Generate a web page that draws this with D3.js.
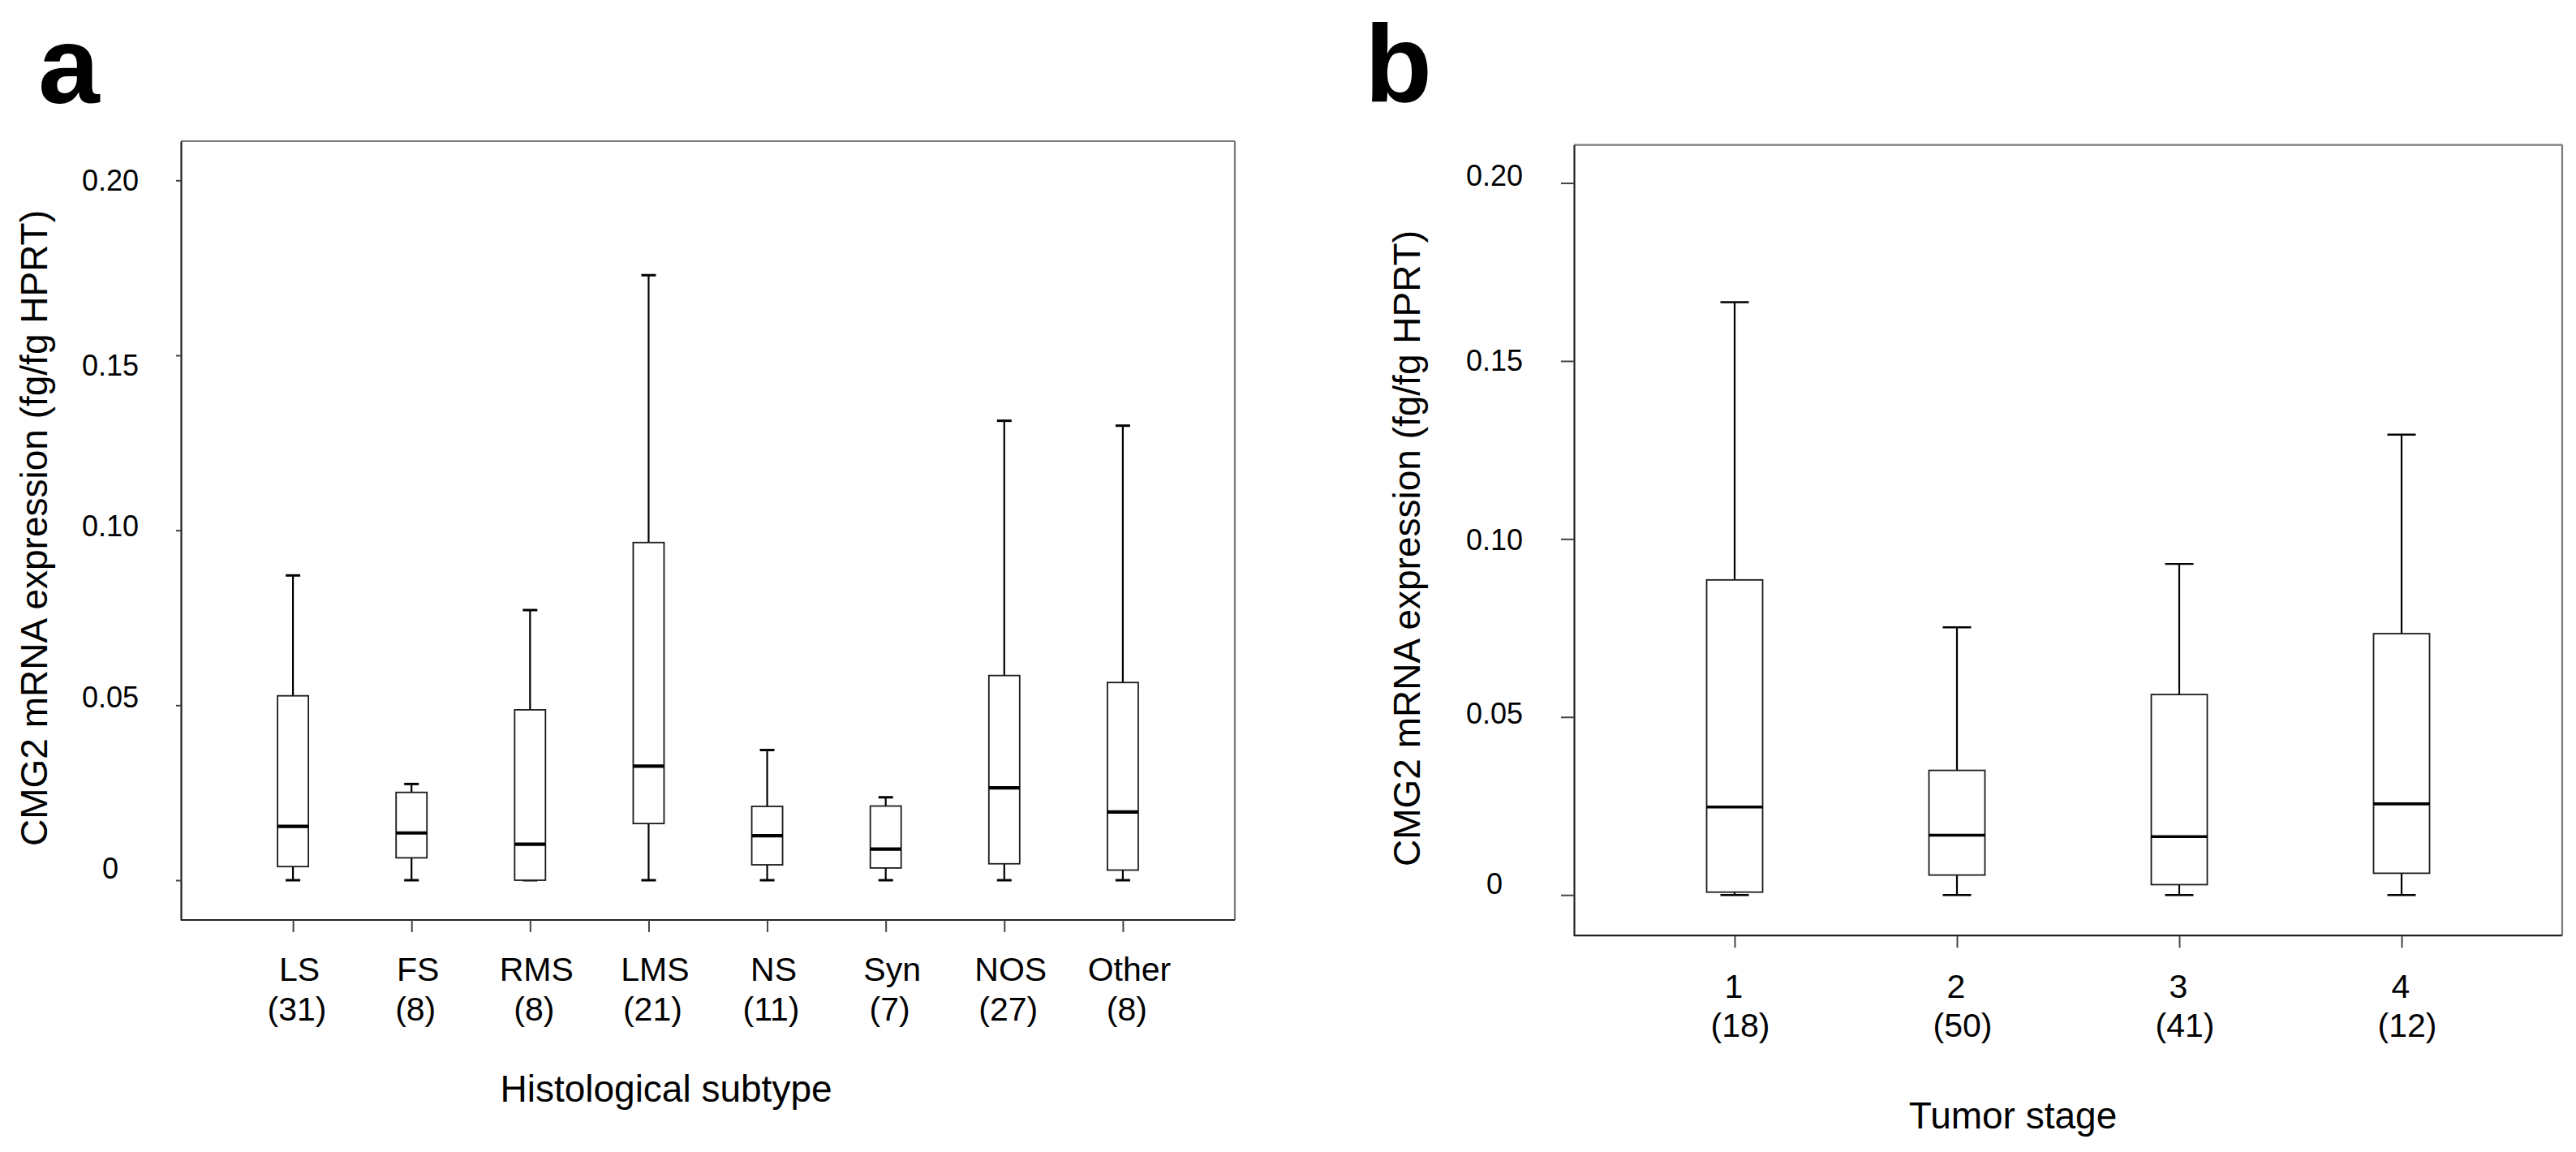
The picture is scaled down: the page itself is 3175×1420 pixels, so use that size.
<!DOCTYPE html>
<html>
<head>
<meta charset="utf-8">
<script src="https://cdn.jsdelivr.net/npm/d3@7/dist/d3.min.js"></script>
<style>
  html, body { margin: 0; padding: 0; background: #fff; }
  svg { display: block; }
  text { font-family: "Liberation Sans", Arial, sans-serif; fill: #000; }
</style>
</head>
<body>
<svg id="chart" width="3175" height="1420"></svg>
<script>
// ---------- DATA ----------
const subtypes = ["LS", "FS", "RMS", "LMS", "NS", "Syn", "NOS", "Other"];
const subtypeN = [31, 8, 8, 21, 11, 7, 27, 8];
const subtypeMin = [0, 0, 0, 0, 0, 0, 0, 0];
const subtypeQ1 = [0.0039, 0.0064, 0.0, 0.0162, 0.0044, 0.0035, 0.0047, 0.0029];
const subtypeMedian = [0.0154, 0.0135, 0.0103, 0.0326, 0.0127, 0.0089, 0.0264, 0.0195];
const subtypeQ3 = [0.0527, 0.0251, 0.0487, 0.0965, 0.0211, 0.0212, 0.0585, 0.0565];
const subtypeMax = [0.0871, 0.0275, 0.0772, 0.1729, 0.0372, 0.0237, 0.1313, 0.1299];

const stages = ["1", "2", "3", "4"];
const stageN = [18, 50, 41, 12];
const stageMin = [0, 0, 0, 0];
const stageQ1 = [0.0008, 0.0056, 0.0029, 0.0061];
const stageMedian = [0.0247, 0.0168, 0.0164, 0.0256];
const stageQ3 = [0.0885, 0.0350, 0.0563, 0.0734];
const stageMax = [0.1665, 0.0752, 0.0930, 0.1293];

const yTicks = [0, 0.05, 0.10, 0.15, 0.20];
const yTitle = "CMG2 mRNA expression (fg/fg HPRT)";
const xTitleA = "Histological subtype";
const xTitleB = "Tumor stage";

// ---------- DRAW ----------
const svg = d3.select("#chart");
const fmt = v => v === 0 ? "0" : d3.format(".2f")(v);

function panel(cfg) {
  const g = svg.append("g");
  const rows = cfg.cats.map((c, i) => ({
    cat: c, n: cfg.n[i], min: cfg.min[i], q1: cfg.q1[i],
    med: cfg.med[i], q3: cfg.q3[i], max: cfg.max[i]
  }));
  const x = d3.scalePoint().domain(cfg.cats).range([cfg.left, cfg.right]).padding(cfg.pad);
  const y = d3.scaleLinear().domain(cfg.ydom).range([cfg.bottom, cfg.top]);

  // frame: top/right lighter, left/bottom darker
  g.append("line").attr("x1", cfg.left).attr("x2", cfg.right).attr("y1", cfg.top).attr("y2", cfg.top)
    .attr("stroke", "#7a7a7a").attr("stroke-width", 2.2);
  g.append("line").attr("x1", cfg.right).attr("x2", cfg.right).attr("y1", cfg.top).attr("y2", cfg.bottom)
    .attr("stroke", "#7a7a7a").attr("stroke-width", 2.2);

  // y axis
  const ya = g.append("g").attr("transform", `translate(${cfg.left},0)`)
    .call(d3.axisLeft(y).tickValues(yTicks).tickFormat(fmt).tickSize(cfg.yTick).tickSizeOuter(0));
  ya.select(".domain").attr("stroke", "#222").attr("stroke-width", 2.2);
  ya.selectAll(".tick line").attr("stroke", "#444").attr("stroke-width", 2);
  ya.selectAll(".tick text")
    .attr("x", cfg.yLabelX - cfg.left).attr("text-anchor", "middle")
    .attr("y", (d, i) => cfg.yShift[i])
    .attr("dy", "0.35em").style("font-size", "36px")
    .style("font-family", '"Liberation Sans", Arial, sans-serif').attr("fill", "#000");

  // x axis
  const xa = g.append("g").attr("transform", `translate(0,${cfg.bottom})`)
    .call(d3.axisBottom(x).tickSize(cfg.xTick).tickFormat("").tickSizeOuter(0));
  xa.select(".domain").attr("stroke", "#222").attr("stroke-width", 2.2)
    .attr("d", `M${cfg.left},0H${cfg.right}`);
  xa.selectAll(".tick line").attr("stroke", "#444").attr("stroke-width", 2);

  // x tick labels (two lines)
  const lab = g.append("g");
  lab.selectAll("text.l1").data(rows).join("text").attr("class", "l1")
    .attr("x", d => x(d.cat) + cfg.dx1).attr("y", cfg.lab1)
    .attr("text-anchor", "middle").style("font-size", "41px").text(d => d.cat);
  lab.selectAll("text.l2").data(rows).join("text").attr("class", "l2")
    .attr("x", d => x(d.cat) + cfg.dx2).attr("y", cfg.lab2)
    .attr("text-anchor", "middle").style("font-size", "41px").text(d => `(${d.n})`);

  // boxes
  const b = g.append("g").selectAll("g").data(rows).join("g");
  b.append("line").attr("x1", d => x(d.cat)).attr("x2", d => x(d.cat))
    .attr("y1", d => y(d.max)).attr("y2", d => y(d.q3))
    .attr("stroke", "#000").attr("stroke-width", cfg.whiskW);
  b.append("line").attr("x1", d => x(d.cat)).attr("x2", d => x(d.cat))
    .attr("y1", d => y(d.q1)).attr("y2", d => y(d.min))
    .attr("stroke", "#000").attr("stroke-width", cfg.whiskW);
  b.append("line").attr("x1", d => x(d.cat) - cfg.capW / 2).attr("x2", d => x(d.cat) + cfg.capW / 2)
    .attr("y1", d => y(d.max)).attr("y2", d => y(d.max))
    .attr("stroke", "#000").attr("stroke-width", cfg.capT);
  b.append("line").attr("x1", d => x(d.cat) - cfg.capW / 2).attr("x2", d => x(d.cat) + cfg.capW / 2)
    .attr("y1", d => y(d.min)).attr("y2", d => y(d.min))
    .attr("stroke", "#000").attr("stroke-width", cfg.capT);
  b.append("rect").attr("x", d => x(d.cat) - cfg.boxW / 2).attr("width", cfg.boxW)
    .attr("y", d => y(d.q3)).attr("height", d => Math.max(0, y(d.q1) - y(d.q3)))
    .attr("fill", "#fff").attr("stroke", "#1a1a1a").attr("stroke-width", 1.8);
  b.append("line").attr("x1", d => x(d.cat) - cfg.boxW / 2).attr("x2", d => x(d.cat) + cfg.boxW / 2)
    .attr("y1", d => y(d.med)).attr("y2", d => y(d.med))
    .attr("stroke", "#000").attr("stroke-width", cfg.medW);

  // titles
  g.append("text").attr("transform", `translate(${cfg.yTitleX},${cfg.yTitleY}) rotate(-90)`)
    .attr("text-anchor", "middle").style("font-size", "46px").text(yTitle);
  g.append("text").attr("x", cfg.xTitleX).attr("y", cfg.xTitleY)
    .attr("text-anchor", "middle").style("font-size", "46px").text(cfg.xTitle);
  g.append("text").attr("x", cfg.letterX).attr("y", cfg.letterY)
    .style("font-family", '"Liberation Sans", Arial, sans-serif').style("font-weight", "bold")
    .style("font-size", "136px").text(cfg.letter);
}

panel({
  cats: subtypes, n: subtypeN, min: subtypeMin, q1: subtypeQ1, med: subtypeMedian, q3: subtypeQ3, max: subtypeMax,
  left: 223, right: 1522, top: 174, bottom: 1134, pad: 0.945, ydom: [-0.01136, 0.2112],
  yTick: 6, xTick: 15, yLabelX: 136, yShift: [-15, -10, -6, 12, 0], dx1: 8, dx2: 5, lab1: 1209, lab2: 1258,
  boxW: 38, capW: 18, capT: 3, whiskW: 2.2, medW: 4.2,
  yTitleX: 58, yTitleY: 651, xTitle: xTitleA, xTitleX: 821, xTitleY: 1358,
  letter: "a", letterX: 47, letterY: 127
});

panel({
  cats: stages, n: stageN, min: stageMin, q1: stageQ1, med: stageMedian, q3: stageQ3, max: stageMax,
  left: 1940, right: 3158, top: 178.6, bottom: 1153.2, pad: 0.7226, ydom: [-0.0114, 0.2107],
  yTick: 16, xTick: 15, yLabelX: 1842, yShift: [-14, -5, 1, -1, -10], dx1: -1, dx2: 7, lab1: 1230, lab2: 1278,
  boxW: 69, capW: 35, capT: 2.4, whiskW: 2.2, medW: 3.6,
  yTitleX: 1750, yTitleY: 676, xTitle: xTitleB, xTitleX: 2481, xTitleY: 1391,
  letter: "b", letterX: 1682, letterY: 125
});
</script>
</body>
</html>
